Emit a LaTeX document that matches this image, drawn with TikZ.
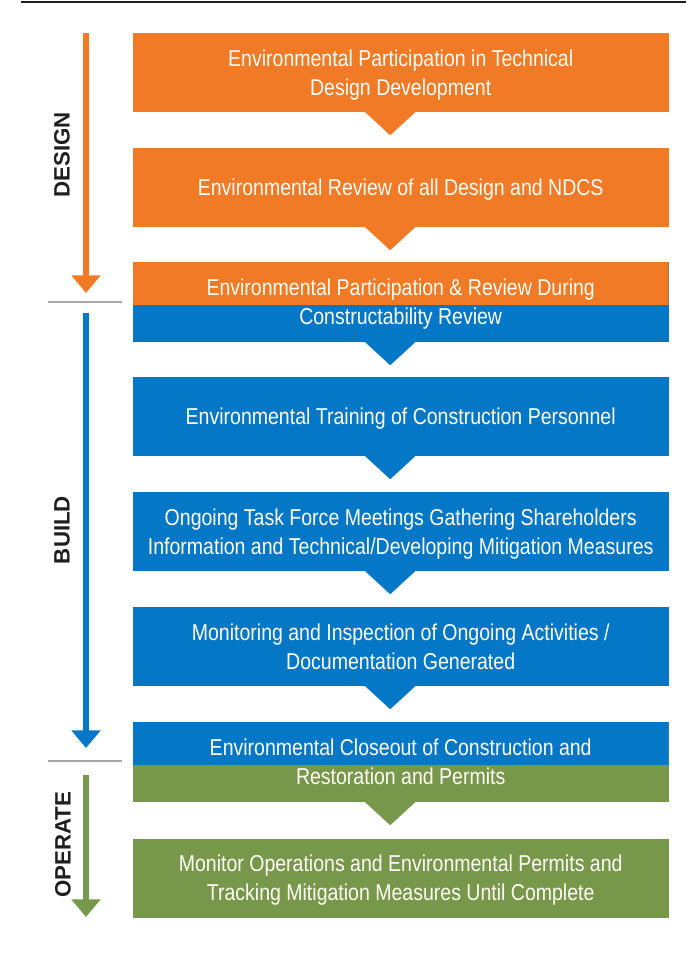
\documentclass[tikz,border=0pt]{standalone}
\usepackage{fontspec}
\setmainfont{Liberation Sans}
\newfontfamily\narrowsf{Liberation Sans}[FakeStretch=0.85]
\usetikzlibrary{arrows.meta}
\definecolor{dsgn}{HTML}{F07A26}
\definecolor{bld}{HTML}{0477C6}
\definecolor{oper}{HTML}{77984A}
\definecolor{rule}{HTML}{A8A8A8}
\definecolor{ink}{HTML}{1E1E1E}
\definecolor{paper}{HTML}{FFFDF6}
\tikzset{
  box/.style={minimum width=16.07cm,minimum height=2.37cm,inner sep=0pt,
              align=center,text=paper,text depth=0pt,
              font=\narrowsf\fontsize{19.6}{24.5}\selectfont},
  design/.style={box,fill=dsgn},
  build/.style={box,fill=bld},
  operate/.style={box,fill=oper},
  split/.style 2 args={box,minimum height=2.4cm,fill=#2,
    path picture={\fill[#1] (path picture bounding box.north west)
                  rectangle ([yshift=-0.09cm]path picture bounding box.east);}},
  phase/.style={-{Triangle[width=24pt,length=15pt]},line width=5.1pt},
  phaselabel/.style={rotate=90,text=ink,font=\bfseries\fontsize{19}{22}\selectfont},
  divider/.style={draw=rule,line width=1.7pt},
}
\newcommand{\pointer}[2]{%
  \fill[#2] (#1.south) ++(-35.5,0) -- ++(25,23) -- ++(25,-23) -- cycle;}

\begin{document}
\begin{tikzpicture}[x=0.03cm,y=-0.03cm]
  \useasboundingbox (0,0) rectangle (698,969);
  \draw[ink,line width=2pt] (21,2) -- (686,2);

  % process boxes
  \node[design] (partic) at (400.7,72.5)
    {Environmental Participation in Technical\\Design Development};
  \node[design] (review) at (400.7,187.5)
    {Environmental Review of all Design and NDCS};
  \node[split={dsgn}{bld}] (construct) at (400.7,302)
    {Environmental Participation \& Review During\\Constructability Review};
  \node[build] (training) at (400.7,416.5)
    {Environmental Training of Construction Personnel};
  \node[build] (taskforce) at (400.7,531.5)
    {Ongoing Task Force Meetings Gathering Shareholders\\Information and Technical/Developing Mitigation Measures};
  \node[build] (monitor) at (400.7,646.5)
    {Monitoring and Inspection of Ongoing Activities /\\Documentation Generated};
  \node[split={bld}{oper}] (closeout) at (400.7,762)
    {Environmental Closeout of Construction and\\Restoration and Permits};
  \node[operate] (operations) at (400.7,878)
    {Monitor Operations and Environmental Permits and\\Tracking Mitigation Measures Until Complete};

  \pointer{partic}{dsgn}
  \pointer{review}{dsgn}
  \pointer{construct}{bld}
  \pointer{training}{bld}
  \pointer{taskforce}{bld}
  \pointer{monitor}{bld}
  \pointer{closeout}{oper}

  % phases
  \draw[phase,dsgn] (86,33) -- (86,293);
  \draw[divider] (48,302) -- (122,302);
  \draw[phase,bld] (86,313) -- (86,748);
  \draw[divider] (48,761) -- (122,761);
  \draw[phase,oper] (86,775) -- (86,917);
  \node[phaselabel] (dlab) at (62,155) {DESIGN};
  \node[phaselabel] (blab) at (62,530) {BUILD};
  \node[phaselabel] (olab) at (63,845) {OPERATE};
\end{tikzpicture}
\end{document}
